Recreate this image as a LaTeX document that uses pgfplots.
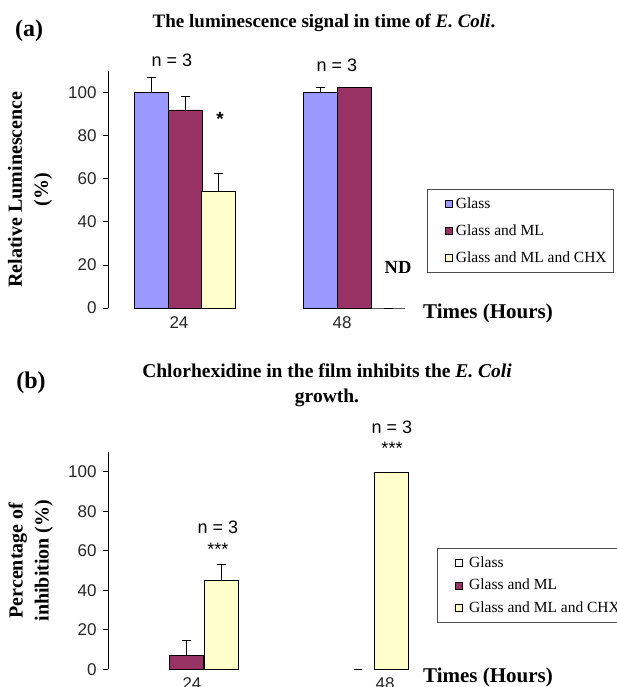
\documentclass[border=0pt]{standalone}
\usepackage{fontspec}
\setmainfont{Liberation Serif}
\newfontfamily\arial{Liberation Sans}
\usepackage{pgfplots}
\pgfplotsset{compat=1.18}
\definecolor{glass}{HTML}{9999FF}
\definecolor{ml}{HTML}{993366}
\definecolor{chx}{HTML}{FFFFCC}
\pgfplotsset{
  panel/.style={
    scale only axis, width=312pt, xmin=108, xmax=420, ymin=0, ymax=110,
    axis lines*=left, axis line style={-, line width=0.8pt, black},
    x axis line style={draw=none}, xtick style={draw=none},
    ytick={0,20,40,60,80,100}, tick align=outside, major tick length=5pt,
    ytick style={black, line width=0.8pt},
    ybar, bar width=34, bar shift=0pt, clip=false,
    tick label style={font=\arial\fontsize{17}{17}\selectfont, text=black!85},
    yticklabel style={xshift=-3pt},
    /pgf/number format/assume math mode=true,
    ylabel style={align=center, anchor=center, font=\bfseries\fontsize{20}{26}\selectfont},
    legend style={draw=black!70, line width=0.8pt, anchor=north west, legend cell align=left,
      font=\fontsize{15.5}{15.5}\selectfont, row sep=13pt, inner xsep=6pt, inner ysep=7pt,
      nodes={inner sep=1pt}},
  },
  bars/.style={draw=black, line width=0.6pt,
    error bars/y dir=plus, error bars/y explicit,
    error bars/error bar style={black, line width=0.8pt},
    error bars/error mark options={rotate=90, black, mark size=4.5pt, line width=0.8pt}},
}
\begin{document}
\begin{tikzpicture}
\useasboundingbox (0,0) rectangle (616pt,-687pt);
% ---------- panel (a)
\node[font=\bfseries\fontsize{24}{24}\selectfont] at (29pt,-31pt) {(a)};
\node[font=\bfseries\fontsize{19}{22}\selectfont] at (324pt,-23pt) {The luminescence signal in time of \textit{E. Coli}.};
\begin{axis}[panel, at={(108pt,-308pt)}, anchor=south west, height=236.8pt,
  xtick={179,342}, xticklabels={24,48},
  ylabel={Relative Luminescence\\(\%)},
  ylabel style={at={(axis description cs:-0.25,0.5)}},
  legend image code/.code={\path (0pt,0pt) (5pt,0pt); \draw[#1, draw=black, line width=0.5pt] (12pt,-3.5pt) rectangle (19pt,3.5pt); \path (21pt,0pt);},
  legend style={at={(axis description cs:1.0224,0.5025)}}]
\addplot[bars, fill=glass] coordinates {(151,100) +- (0,7) (320,100) +- (0,2.7)};
\addlegendentry{Glass}
\addplot[bars, fill=ml] coordinates {(185,92) +- (0,6.5) (354.5,102.3) +- (0,0.3)};
\addlegendentry{Glass and ML}
\addplot[bars, fill=chx] coordinates {(218.5,54.2) +- (0,8.5) (388,0) +- (0,0)};
\addlegendentry{Glass and ML and CHX}
\node[font=\arial\fontsize{18}{18}\selectfont] at (axis cs:172,115.2) {n = 3};
\node[font=\arial\fontsize{18}{18}\selectfont] at (axis cs:337,112.9) {n = 3};
\node[font=\arial\bfseries\fontsize{19}{19}\selectfont] at (axis cs:220,87.8) {*};
\node[font=\bfseries\fontsize{18.5}{18.5}\selectfont] at (axis cs:398,19) {ND};
\node[font=\bfseries\fontsize{21}{21}\selectfont] at (axis cs:488,-2.5) {Times (Hours)};
\end{axis}
% ---------- panel (b)
\node[font=\bfseries\fontsize{24}{24}\selectfont] at (31pt,-383pt) {(b)};
\node[font=\bfseries\fontsize{19.5}{25}\selectfont, align=center] at (327pt,-385pt) {Chlorhexidine in the film inhibits the \textit{E. Coli}\\growth.};
\begin{axis}[panel, at={(108pt,-669.3pt)}, anchor=south west, height=217.4pt,
  xtick={192,385}, xticklabels={24,48},
  ylabel={Percentage of\\inhibition (\%)},
  ylabel style={at={(axis description cs:-0.248,0.5)}},
  legend image code/.code={\path (0pt,0pt) (5pt,0pt); \draw[#1, draw=black, line width=0.5pt] (11pt,-3.5pt) rectangle (18pt,3.5pt); \path (24pt,0pt);},
  legend style={at={(axis description cs:1.0545,0.558)}, row sep=8.5pt}]
\addlegendimage{fill=white}
\addlegendentry{Glass}
\addplot[bars, fill=ml] coordinates {(186,7.2) +- (0,7.6)};
\addlegendentry{Glass and ML}
\addplot[bars, fill=chx] coordinates {(221,44.9) +- (0,8.4) (391.5,99.5) +- (0,0)};
\addlegendentry{Glass and ML and CHX}
\addplot[forget plot, only marks, mark=-, mark size=4pt, mark options={black, line width=0.8pt}] coordinates {(358,0)};
\node[font=\arial\fontsize{18}{18}\selectfont] at (axis cs:218,72) {n = 3};
\node[font=\arial\fontsize{18}{18}\selectfont] at (axis cs:218,60.5) {***};
\node[font=\arial\fontsize{18}{18}\selectfont] at (axis cs:392,122.5) {n = 3};
\node[font=\arial\fontsize{18}{18}\selectfont] at (axis cs:392,112) {***};
\node[font=\bfseries\fontsize{21}{21}\selectfont] at (axis cs:488,-4) {Times (Hours)};
\end{axis}
\end{tikzpicture}
\end{document}
